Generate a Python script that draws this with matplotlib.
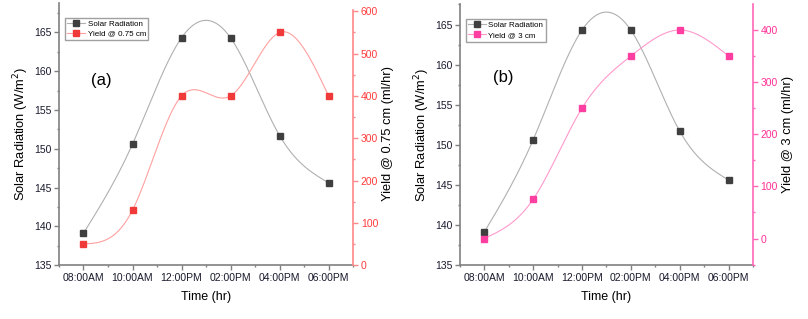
import numpy as np
import matplotlib
matplotlib.use("Agg")
import matplotlib.pyplot as plt
from matplotlib.ticker import MultipleLocator

plt.rcParams['font.family'] = ['Liberation Sans', 'DejaVu Sans']

# Data
times = ["08:00AM", "10:00AM", "12:00PM", "02:00PM", "04:00PM", "06:00PM"]
solar = [139.1, 150.6, 164.3, 164.3, 151.7, 145.6]
yield_075 = [50, 130, 400, 400, 550, 400]
yield_3 = [0, 75, 250, 350, 400, 350]


def spline(xp, yp, n=200):
    """Natural cubic spline through the points (like Origin's spline connector)."""
    xp = np.asarray(xp, float)
    yp = np.asarray(yp, float)
    m = len(xp)
    h = np.diff(xp)
    A = np.zeros((m, m))
    b = np.zeros(m)
    A[0, 0] = A[-1, -1] = 1
    for i in range(1, m - 1):
        A[i, i - 1] = h[i - 1]
        A[i, i] = 2 * (h[i - 1] + h[i])
        A[i, i + 1] = h[i]
        b[i] = 6 * ((yp[i + 1] - yp[i]) / h[i] - (yp[i] - yp[i - 1]) / h[i - 1])
    M = np.linalg.solve(A, b)
    xs = np.linspace(xp[0], xp[-1], n)
    k = np.clip(np.searchsorted(xp, xs) - 1, 0, m - 2)
    t1 = xp[k + 1] - xs
    t2 = xs - xp[k]
    ys = (M[k] * t1**3 + M[k + 1] * t2**3) / (6 * h[k]) \
        + (yp[k] / h[k] - M[k] * h[k] / 6) * t1 \
        + (yp[k + 1] / h[k] - M[k + 1] * h[k] / 6) * t2
    return xs, ys


def panel(rect, yvals, ylab, label, mcol, lcol, scol, tcol, ylim_l, ylim_r, rbounds, tag, tagpos):
    ax = fig.add_axes(rect)
    ax2 = ax.twinx()
    x = np.arange(len(times))

    # solar radiation: smooth grey line + dark square markers
    xs, ys = spline(x, solar)
    ax.plot(xs, ys, color="#b0b0b0", lw=0.8)
    ax.plot(x, solar, "s", color="#3f3f3f", ms=4.5, ls="None")
    h1, = ax.plot([], [], "s-", color="#b0b0b0", mfc="#3f3f3f", mec="#3f3f3f", ms=4.5, lw=0.8)

    # yield on the right axis
    xs, ys = spline(x, yvals)
    ax2.plot(xs, ys, color=lcol, lw=0.8)
    ax2.plot(x, yvals, "s", color=mcol, ms=4.5, ls="None")
    h2, = ax2.plot([], [], "s-", color=lcol, mfc=mcol, mec=mcol, ms=4.5, lw=0.8)

    ax.set_xlim(-0.5, 5.5)
    ax.set_ylim(*ylim_l)
    ax2.set_ylim(*ylim_r)
    ax.set_xticks(x)
    ax.set_xticklabels(times)
    ax.xaxis.set_minor_locator(MultipleLocator(0.5))
    ax.yaxis.set_major_locator(MultipleLocator(5))
    ax.yaxis.set_minor_locator(MultipleLocator(2.5))
    ax2.yaxis.set_major_locator(MultipleLocator(100))
    ax2.yaxis.set_minor_locator(MultipleLocator(50))

    for a in (ax, ax2):
        a.spines["top"].set_visible(False)
    ax.spines["right"].set_visible(False)
    for s in ("left", "bottom"):
        ax.spines[s].set_color("#808080")
        ax.spines[s].set_linewidth(1.2)
    ax2.spines["left"].set_visible(False)
    ax2.spines["bottom"].set_visible(False)
    ax2.spines["right"].set_color(scol)
    ax2.spines["right"].set_linewidth(1.2)
    ax2.spines["right"].set_bounds(*rbounds)

    ax.tick_params(axis="both", which="major", direction="out", length=3.5, width=1,
                   color="#808080", labelsize=7.5, labelcolor="#1a1a2e", pad=2)
    ax.tick_params(axis="both", which="minor", direction="out", length=1.5, width=1,
                   color="#808080")
    ax2.tick_params(axis="y", which="major", direction="out", length=3.5, width=1,
                    color=scol, labelsize=7.5, labelcolor=tcol, pad=2)
    ax2.tick_params(axis="y", which="minor", direction="out", length=1.5, width=1, color=scol)

    ax.set_xlabel("Time (hr)", fontsize=9, labelpad=6)
    ax.set_ylabel("Solar Radiation (W/m$^2$)", fontsize=9.3, labelpad=2)
    ax2.set_ylabel(ylab, fontsize=9.3, labelpad=3)
    ax.text(tagpos[0], tagpos[1], tag, transform=ax.transAxes, ha="center", va="center",
            fontsize=12)

    ax.legend([h1, h2], ["Solar Radiation", label], loc="upper left",
              bbox_to_anchor=(0.015, 0.95), fontsize=5.8, frameon=True, fancybox=False,
              edgecolor="#a0a0a0", framealpha=1, handlelength=2.2, handletextpad=0.3,
              borderpad=0.3, labelspacing=0.3, borderaxespad=0.2)
    return ax, ax2


fig = plt.figure(figsize=(8.08, 3.19), dpi=100)

panel([0.073, 0.169, 0.364, 0.822], yield_075, "Yield @ 0.75 cm (ml/hr)", "Yield @ 0.75 cm",
      "#f03a3a", "#ffa0a0", "#ff8888", "#ff3b3b", (135, 168.8), (0, 620), (0, 604), "(a)",
      (0.143, 0.705))
panel([0.569, 0.169, 0.363, 0.817], yield_3, "Yield @ 3 cm (ml/hr)", "Yield @ 3 cm",
      "#ff3ea2", "#ff99cc", "#ff66b8", "#ff2f95", (135, 167.5), (-51, 449), (-51, 449), "(b)",
      (0.147, 0.72))

fig.savefig("out.png", dpi=100)
